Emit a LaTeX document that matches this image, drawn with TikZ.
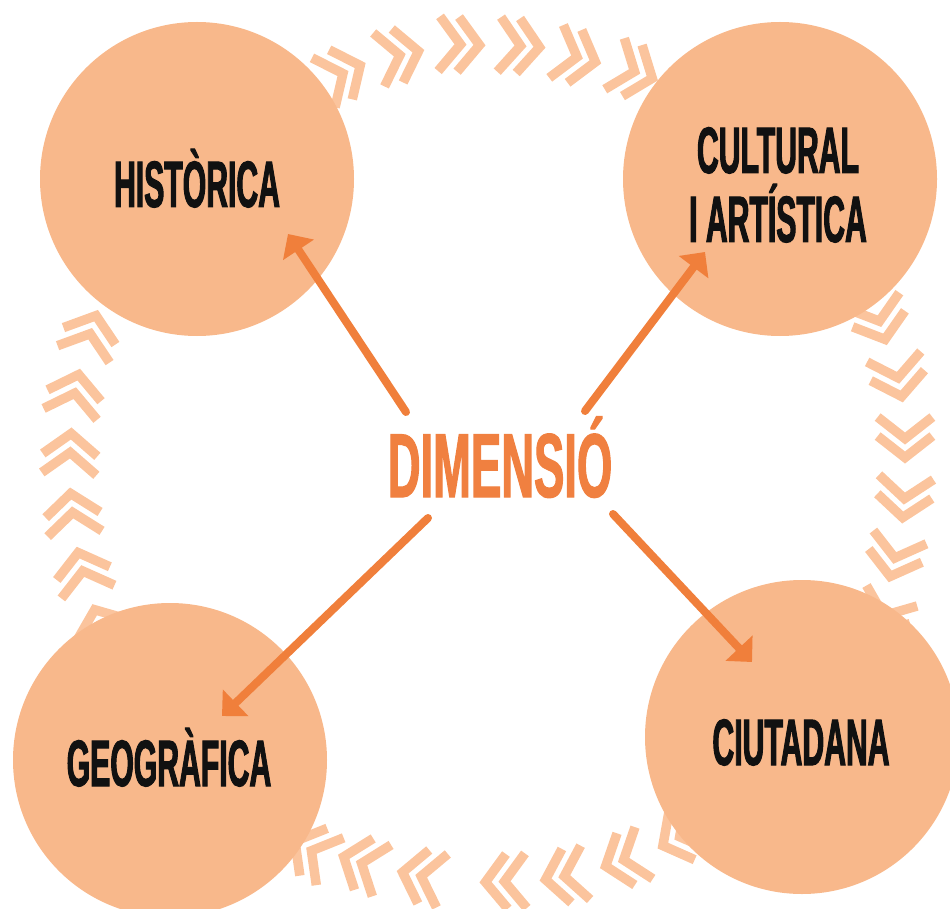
\documentclass[tikz,border=0pt]{standalone}
\usepackage{fontspec}
\setmainfont{Liberation Sans}
\newfontfamily\condfont[FakeStretch=0.46,FakeBold=1.5]{Liberation Sans}
\newfontfamily\dimfont[FakeStretch=0.50,FakeBold=1.2]{Liberation Sans}
\usetikzlibrary{arrows.meta}
\definecolor{circcol}{HTML}{F8B88B}
\definecolor{chevcol}{HTML}{FBC49D}
\definecolor{arrowcol}{HTML}{F07F3B}
\definecolor{dimcol}{HTML}{F08040}
\definecolor{txtcol}{HTML}{111111}
\tikzset{
  chevline/.style={draw=chevcol, line width=9.5pt, line join=miter, line cap=rect},
  chev/.pic={
    \draw[chevline] (-34,23.6)--(-15.5,0)--(-34,-23.6);
    \draw[chevline] (-15,23.6)--(3.5,0)--(-15,-23.6);
  },
  circ/.style={circle, fill=circcol, draw=none, inner sep=0pt, minimum size=314pt},
  lbl/.style={anchor=base, text=txtcol, font=\condfont\bfseries\fontsize{65.6}{70}\selectfont, inner sep=0pt},
  dimlbl/.style={anchor=base, text=dimcol, font=\dimfont\bfseries\fontsize{90.8}{95}\selectfont, inner sep=0pt},
  arr/.style={draw=arrowcol, line width=8pt, line cap=round, -{Triangle[length=19pt,width=36pt]}}
}
\begin{document}
\begin{tikzpicture}[x=1pt,y=-1pt]
\useasboundingbox (0,0) rectangle (950,909);
% chevrons
\foreach \px/\py/\ang in {357/67/25, 415/52/12, 476/45/-2, 536/47/-4, 592/61/-15, 649/77/-21,
  884/336/-73, 901/393/-79, 905/454/-90, 903/514/-95, 891/573/-104, 878/630/-112,
  95/319/72, 78/378/78, 71/437/87, 71/497/96, 79/556/104, 96/613/112,
  298/843/150, 347/858/160, 406/873/168, 489/882/182, 549/879/190, 609/865/199, 666/844/208}
  \pic[rotate=\ang] at (\px,\py) {chev};
% circles
\node[circ] (hist) at (197,179) {};
\node[circ] (cult) at (780,179) {};
\node[circ] (geo) at (170,760) {};
\node[circ] (ciut) at (802,737) {};
% arrows
\coordinate (s1) at (406,412); \coordinate (t1) at (288,234);
\coordinate (s2) at (585,411); \coordinate (t2) at (705,252);
\coordinate (s3) at (428,518); \coordinate (t3) at (222,716);
\coordinate (s4) at (613,514); \coordinate (t4) at (752,662);
\draw[arr] (s1) -- (t1);
\draw[arr] (s2) -- (t2);
\draw[arr] (s3) -- (t3);
\draw[arr] (s4) -- (t4);
% labels
\node[lbl] (lhist) at (197,207) {HISTÒRICA};
\node[lbl] (lcult1) at (778,173) {CULTURAL};
\node[lbl] (lcult2) at (778,242) {I ARTÍSTICA};
\node[lbl] (lgeo) at (169,786) {GEOGRÀFICA};
\node[lbl] (lciut) at (801,765) {CIUTADANA};
\node[dimlbl] (dim) at (500,497) {DIMENSIÓ};
\end{tikzpicture}
\end{document}
